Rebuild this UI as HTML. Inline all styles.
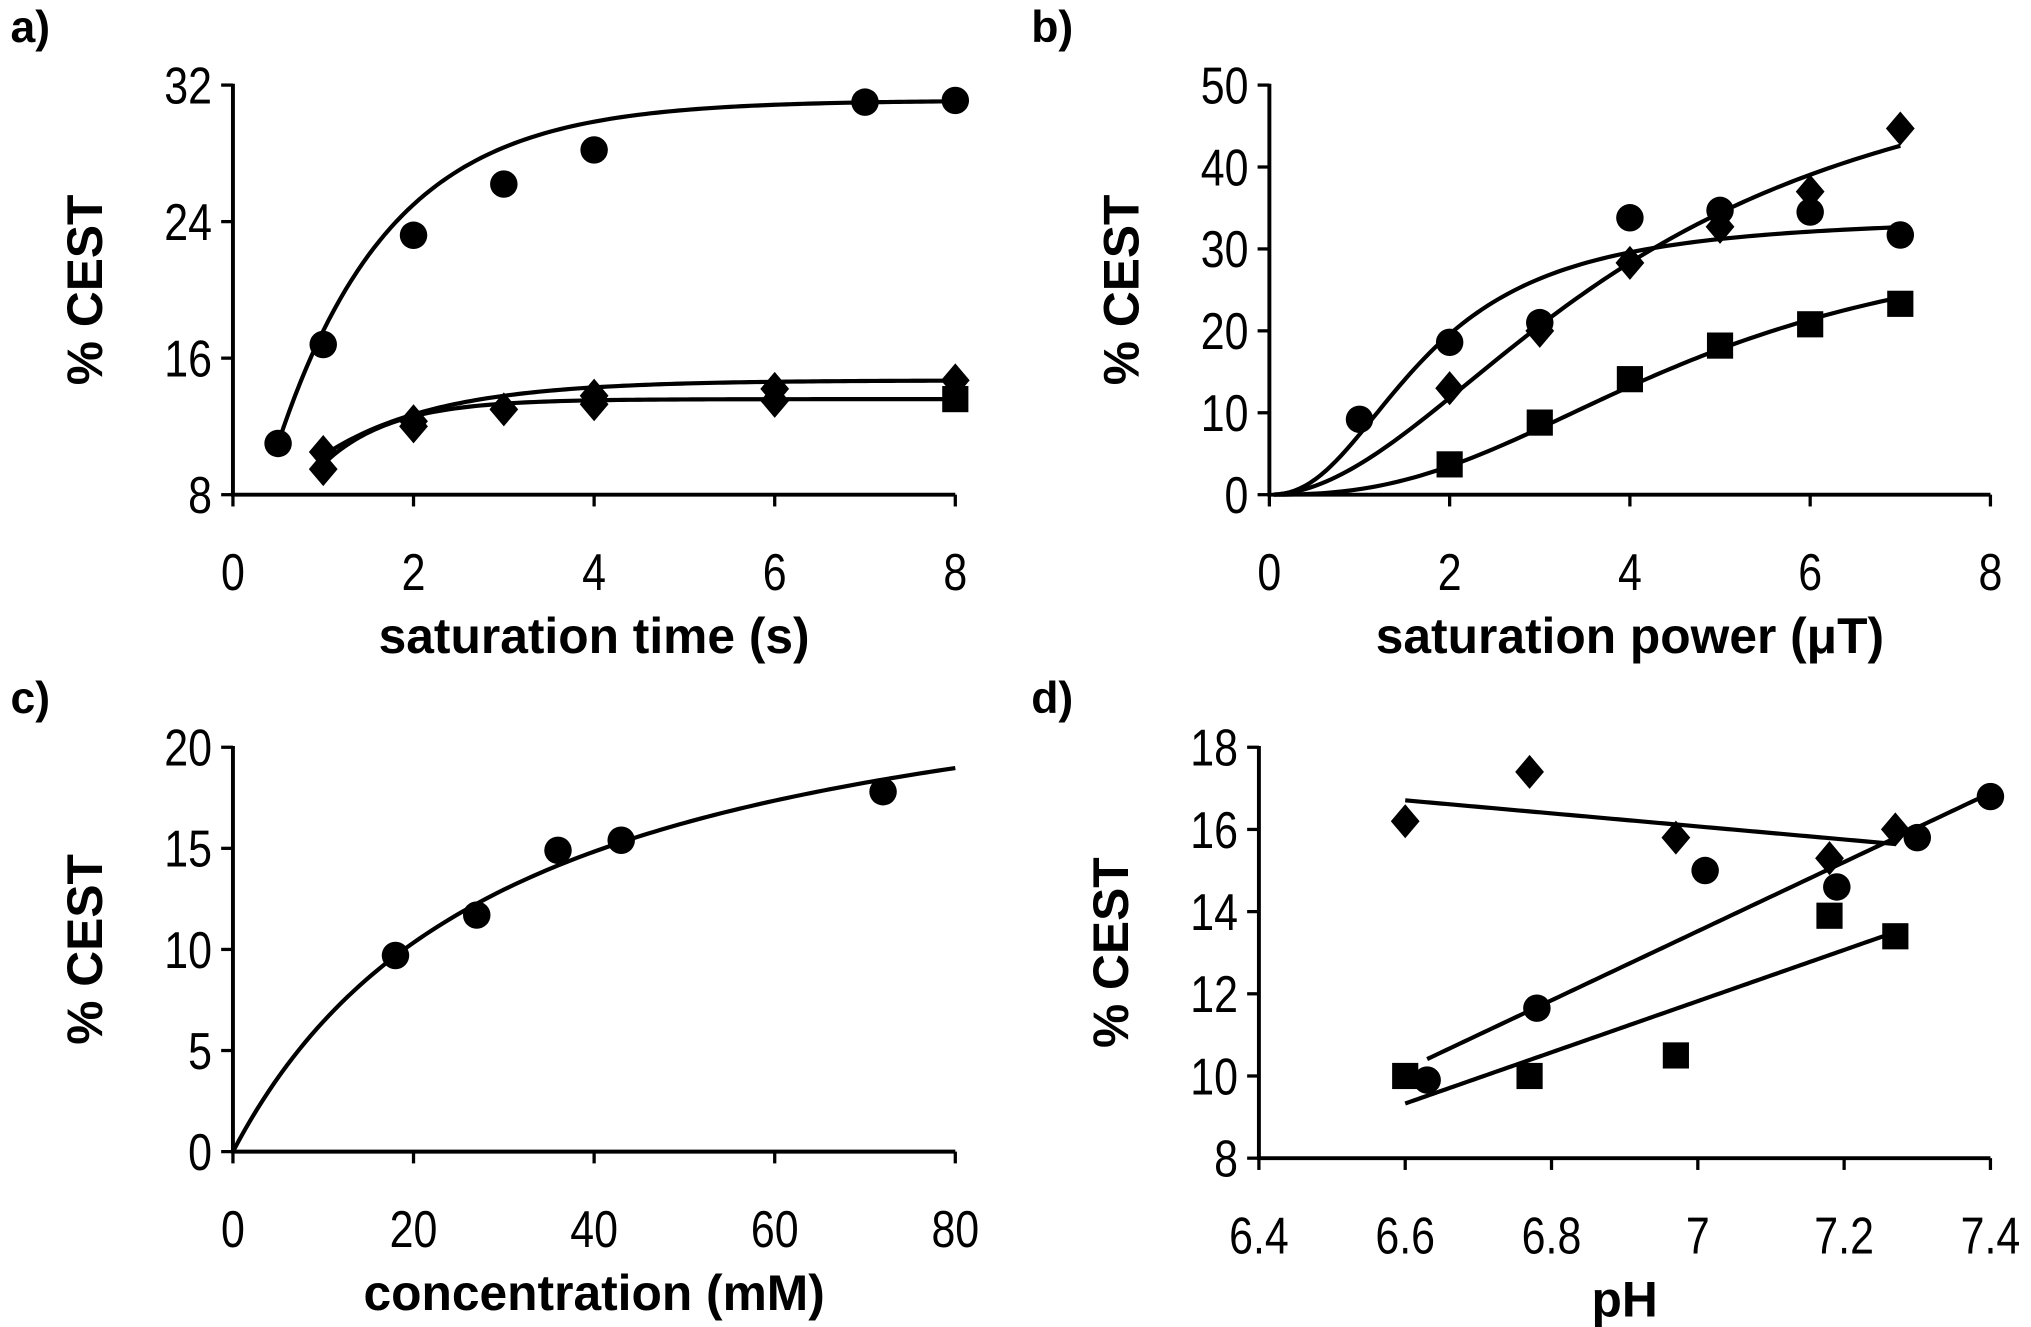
<!DOCTYPE html>
<html><head><meta charset="utf-8"><style>
html,body{margin:0;padding:0;background:#fff}
svg{display:block}
text{font-family:"Liberation Sans",sans-serif;fill:#000}
.tick{font-size:40px}
.title{font-size:38px;font-weight:bold}
.plabel{font-size:34px;font-weight:bold}
</style></head><body>
<svg id="fig" width="2031" height="1327" viewBox="0 0 1552 1014" xmlns="http://www.w3.org/2000/svg"></svg>
<script>
// ---- Panel a data ----
const aCircX=[0.5,1,2,3,4,7,8];
const aCircY=[11,16.8,23.2,26.2,28.2,31,31.1];
const aDiam1X=[1,2,3,4,6,8];
const aDiam1Y=[10.5,12.3,13,13.8,14.2,14.7];
const aDiam2X=[1,2,4,6];
const aDiam2Y=[9.5,12,13.3,13.5];
const aSqX=[8];
const aSqY=[13.6];
const aXTicks=[0,2,4,6,8];
const aYTicks=[8,16,24,32];
// ---- Panel b data ----
const bCircX=[1,2,3,4,5,6,7];
const bCircY=[9.2,18.6,21,33.8,34.7,34.5,31.7];
const bDiamX=[2,3,4,5,6,7];
const bDiamY=[13,20,28.3,32.7,37,44.7];
const bSqX=[2,3,4,5,6,7];
const bSqY=[3.7,8.8,14.1,18.2,20.8,23.3];
const bXTicks=[0,2,4,6,8];
const bYTicks=[0,10,20,30,40,50];
// ---- Panel c data ----
const cCircX=[18,27,36,43,72];
const cCircY=[9.7,11.7,14.9,15.4,17.8];
const cXTicks=[0,20,40,60,80];
const cYTicks=[0,5,10,15,20];
// ---- Panel d data ----
const dDiamX=[6.6,6.77,6.97,7.18,7.27];
const dDiamY=[16.2,17.4,15.8,15.3,16];
const dCircX=[6.63,6.78,7.01,7.19,7.3,7.4];
const dCircY=[9.9,11.65,15,14.6,15.8,16.8];
const dSqX=[6.6,6.77,6.97,7.18,7.27];
const dSqY=[10,10,10.5,13.9,13.4];
const dXTicks=[6.4,6.6,6.8,7,7.2,7.4];
const dYTicks=[8,10,12,14,16,18];

const NS="http://www.w3.org/2000/svg";
const svg=document.getElementById('fig');
function el(tag,attrs,parent){const e=document.createElementNS(NS,tag);for(const k in attrs)e.setAttribute(k,attrs[k]);(parent||svg).appendChild(e);return e;}

function makePanel(id,letter,px0,px1,py0,py1,xmin,xmax,ymin,ymax,xTicks,yTicks,xTitle,lx,ly){
  const g=el('g',{});
  
  
  const sx=v=>px0+(v-xmin)/(xmax-xmin)*(px1-px0);
  const sy=v=>py0-(v-ymin)/(ymax-ymin)*(py0-py1);
  const ax=el('path',{d:`M${px0},${py1-1} V${py0} H${px1}`,stroke:'#000','stroke-width':3,fill:'none'},g);
  
  
  xTicks.forEach(t=>{
    el('line',{x1:sx(t),x2:sx(t),y1:py0,y2:py0+9,stroke:'#000','stroke-width':2.5},g);
    const tx=el('text',{x:0,y:0,'text-anchor':'middle',class:'tick',transform:`translate(${sx(t)},${py0+73}) scale(0.82,1)`},g);
    tx.textContent=t;
    
    
  });
  yTicks.forEach(t=>{
    el('line',{x1:px0-9,x2:px0,y1:sy(t),y2:sy(t),stroke:'#000','stroke-width':2.5},g);
    const tx=el('text',{x:0,y:0,'text-anchor':'end',class:'tick',transform:`translate(${px0-16},${sy(t)+14}) scale(0.82,1)`},g);
    tx.textContent=t;
    
    
  });
  const xt=el('text',{x:(px0+px1)/2,y:py0+121,'text-anchor':'middle',class:'title'},g);
  xt.textContent=xTitle;
  
  
  const yt=el('text',{x:0,y:0,'text-anchor':'middle',class:'title',transform:`translate(${px0-100},${(py0+py1)/2}) rotate(-90)`},g);
  yt.textContent='% CEST';
  
  
  const pl=el('text',{x:lx,y:ly,class:'plabel'},g);
  pl.textContent=letter;
  
  
  return {g,sx,sy};
}
function circles(P,xs,ys,name){xs.forEach((x,i)=>{const c=el('circle',{cx:P.sx(x),cy:P.sy(ys[i]),r:10.5,fill:'#000'},P.g);});}
function diamonds(P,xs,ys,name){xs.forEach((x,i)=>{const cx=P.sx(x),cy=P.sy(ys[i]);const d=el('polygon',{points:`${cx},${cy-13} ${cx+11},${cy} ${cx},${cy+13} ${cx-11},${cy}`,fill:'#000'},P.g);});}
function squares(P,xs,ys,name){xs.forEach((x,i)=>{const r=el('rect',{x:P.sx(x)-10,y:P.sy(ys[i])-10,width:20,height:20,fill:'#000'},P.g);});}
function curve(P,f,x0,x1,name){let d='';const n=120;for(let i=0;i<=n;i++){const x=x0+(x1-x0)*i/n;d+=(i?'L':'M')+P.sx(x).toFixed(2)+','+P.sy(f(x)).toFixed(2);}const p=el('path',{d,stroke:'#000','stroke-width':3.2,fill:'none'},P.g);}
function linfit(xs,ys){const n=xs.length;const mx=xs.reduce((a,b)=>a+b)/n,my=ys.reduce((a,b)=>a+b)/n;let sxy=0,sxx=0;xs.forEach((x,i)=>{sxy+=(x-mx)*(ys[i]-my);sxx+=(x-mx)*(x-mx);});const m=sxy/sxx;return x=>my+m*(x-mx);}

// Panel a
const A=makePanel('a','a)',178,730,378,65,0,8,8,32,aXTicks,aYTicks,'saturation time (s)',8,32);
const aMax=Math.max(...aCircY);
curve(A,t=>aMax-29.9*Math.exp(-0.795*t),0.5,8,'fit-curve-circles');
curve(A,t=>14.7-9.7*Math.exp(-0.79*t),1,8,'fit-curve-diamonds-upper');
curve(A,t=>13.6-14.4*Math.exp(-1.33*t),1,8,'fit-curve-diamonds-lower');
circles(A,aCircX,aCircY,'point-circle');
diamonds(A,aDiam1X,aDiam1Y,'point-diamond');
diamonds(A,aDiam2X,aDiam2Y,'point-diamond');
squares(A,aSqX,aSqY,'point-square');

// Panel b
const B=makePanel('b','b)',970,1521,378,65,0,8,0,50,bXTicks,bYTicks,'saturation power (μT)',788,32);
const hill=(M,n,K)=>x=>M*Math.pow(x,n)/(Math.pow(K,n)+Math.pow(x,n));
curve(B,hill(34,2.3,1.75),0.05,7,'fit-curve-circles');
curve(B,hill(58,1.9,4.1),0.05,7,'fit-curve-diamonds');
curve(B,hill(33,2.5,4.7),0.05,7,'fit-curve-squares');
circles(B,bCircX,bCircY,'point-circle');
diamonds(B,bDiamX,bDiamY,'point-diamond');
squares(B,bSqX,bSqY,'point-square');

// Panel c
const C=makePanel('c','c)',178,730,880,571,0,80,0,20,cXTicks,cYTicks,'concentration (mM)',8,545);
curve(C,x=>26.3*x/(30.9+x),0,80,'fit-curve-circles');
circles(C,cCircX,cCircY,'point-circle');

// Panel d
const D=makePanel('d','d)',962,1521,885,571,6.4,7.4,8,18,dXTicks,dYTicks,'pH',788,545);
const fD=linfit(dDiamX,dDiamY),fC=linfit(dCircX,dCircY),fS=linfit(dSqX,dSqY);
curve(D,fD,dDiamX[0],dDiamX[dDiamX.length-1],'fit-line-diamonds');
curve(D,fC,dCircX[0],dCircX[dCircX.length-1],'fit-line-circles');
curve(D,fS,dSqX[0],dSqX[dSqX.length-1],'fit-line-squares');
diamonds(D,dDiamX,dDiamY,'point-diamond');
circles(D,dCircX,dCircY,'point-circle');
squares(D,dSqX,dSqY,'point-square');
</script>
</body></html>
